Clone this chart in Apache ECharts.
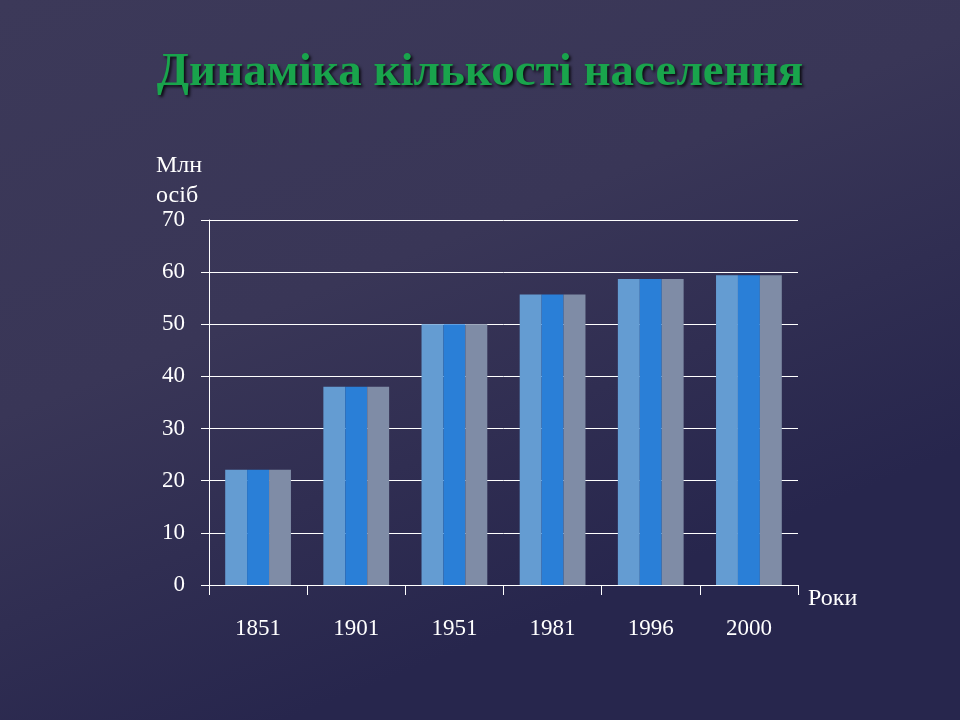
<!DOCTYPE html>
<html>
<head>
<meta charset="utf-8">
<title>Динаміка кількості населення</title>
<script src="https://cdn.jsdelivr.net/npm/echarts@6/dist/echarts.min.js"></script>
<style>
  html, body { margin: 0; padding: 0; }
  #chart { width: 960px; height: 720px; }
</style>
</head>
<body>
<div id="chart"></div>
<script>
// роки та населення, млн осіб
const years = ['1851', '1901', '1951', '1981', '1996', '2000']
const population = [22.1, 38, 50, 55.7, 58.7, 59.4]
const yTicks = [0, 10, 20, 30, 40, 50, 60, 70]

const serif = '"Liberation Serif", "DejaVu Serif", serif'

let myEcharts = echarts.init(document.getElementById('chart'))

// три однакові стовпчики в кожній групі, різні кольори
function barSeries(color) {
  return {
    type: 'bar',
    data: population,
    barGap: '0%',
    barCategoryGap: '33%',
    itemStyle: { color: color },
    silent: true
  }
}

const options = {
  animation: false,
  backgroundColor: {
    type: 'linear', x: 0, y: 0, x2: 0.3, y2: 1,
    colorStops: [
      { offset: 0, color: '#3c3959' },
      { offset: 0.5, color: '#393657' },
      { offset: 1, color: '#27264d' }
    ]
  },
  title: {
    text: 'Динаміка кількості населення',
    left: 'center',
    top: 44,
    textStyle: {
      fontFamily: serif,
      fontSize: 47,
      fontWeight: 'bold',
      color: '#19a44c',
      textShadowColor: 'rgba(0,0,0,0.8)',
      textShadowBlur: 3,
      textShadowOffsetX: 2,
      textShadowOffsetY: 2
    }
  },
  graphic: [{
    type: 'text',
    left: 156,
    top: 151,
    style: {
      text: 'Млн\nосіб',
      fill: '#ffffff',
      font: '24px ' + serif,
      lineHeight: 30
    }
  }],
  grid: {
    left: 209,
    right: 162,
    top: 220,
    bottom: 135,
    containLabel: false
  },
  xAxis: {
    type: 'category',
    data: years,
    name: 'Роки',
    nameLocation: 'end',
    nameGap: 10,
    nameTextStyle: {
      color: '#ffffff',
      fontFamily: serif,
      fontSize: 24,
      verticalAlign: 'top',
      padding: [2, 0, 0, 0]
    },
    axisLine: { lineStyle: { color: '#ffffff', width: 1 } },
    axisTick: { show: true, length: 10, inside: false, lineStyle: { color: '#ffffff' } },
    axisLabel: {
      color: '#ffffff',
      fontFamily: serif,
      fontSize: 23,
      margin: 32
    }
  },
  yAxis: {
    type: 'value',
    min: yTicks[0],
    max: yTicks[yTicks.length - 1],
    interval: 10,
    axisLine: { show: true, lineStyle: { color: '#ffffff', width: 1 } },
    axisTick: { show: true, length: 8, lineStyle: { color: '#ffffff' } },
    splitLine: { show: true, lineStyle: { color: '#ffffff', width: 1 } },
    axisLabel: {
      color: '#ffffff',
      fontFamily: serif,
      fontSize: 23,
      margin: 24
    }
  },
  series: [
    barSeries('#649cd2'),
    barSeries('#2a7fd7'),
    barSeries('#7f8ca6')
  ]
}

options && myEcharts.setOption(options)
</script>
</body>
</html>
